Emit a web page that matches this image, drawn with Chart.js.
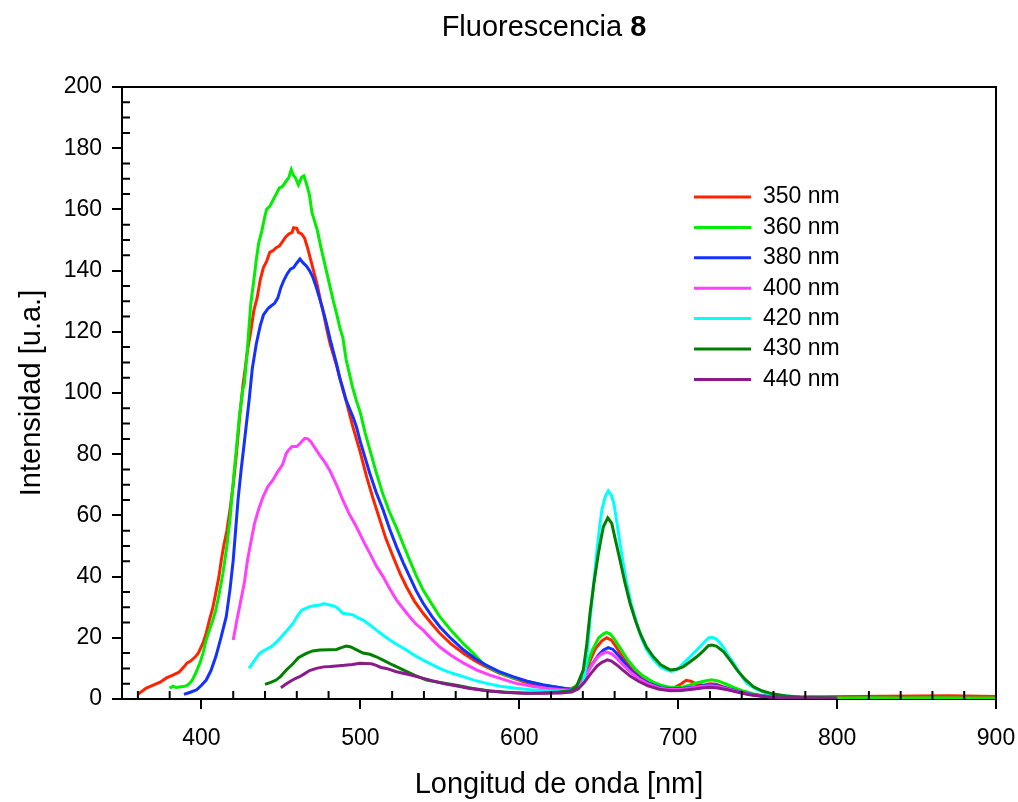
<!DOCTYPE html>
<html>
<head>
<meta charset="utf-8">
<script src="https://cdn.jsdelivr.net/npm/chart.js@4"></script>
<style>
html, body { margin: 0; padding: 0; background: #fff; }
</style>
</head>
<body>
<canvas id="fluorescencia" width="1018" height="802"></canvas>
<script>
// excitation wavelengths (legend)
const etiquetas = ['350 nm', '360 nm', '380 nm', '400 nm', '420 nm', '430 nm', '440 nm'];
const colores = ['rgb(255,36,0)', 'rgb(0,238,0)', 'rgb(20,50,255)', 'rgb(255,64,255)', 'rgb(0,255,255)', 'rgb(0,128,0)', 'rgb(139,26,139)'];

const xTicks = [400, 500, 600, 700, 800, 900];
const yTicks = [0, 20, 40, 60, 80, 100, 120, 140, 160, 180, 200];

// [nm, intensidad]
const s350 = [[360,1.5],[365,3.5],[370,4.6],[374,5.5],[378,6.9],[382,7.8],[386,8.8],[389,10.5],[391,11.8],[393,12.3],[396,13.7],[398,15],[401,18.3],[403,21.5],[405,25.8],[407,29.5],[409,34.6],[411,40],[412.5,45.4],[414,50],[416,55],[418,62],[420,70],[422,80],[424,92],[426,102],[428,110],[429,114],[431,120],[433,127],[435,131],[437,137],[439,141],[441,143],[443,146],[445,146.5],[447,147.5],[449,148],[451,149.5],[453,151],[455,152],[457,152.5],[458,154],[460,153.8],[461,152.5],[463,152],[465,150.5],[467,147],[469,143],[471,139],[473,135],[475,130],[477,125.5],[479,120.5],[481,116],[483,112.5],[485,109],[487,105],[489,101],[491,97.5],[493,93.5],[495,89.5],[497.5,85],[500,80.5],[504,72.5],[508,65.5],[512,59],[516,52.5],[520.6,46.5],[525,41],[529,36.7],[534,32],[539.5,28],[545,24.5],[550,21.5],[557,18],[565,14.9],[572,12.5],[579,10.6],[587,8.5],[596,6.8],[605,5.3],[615,4],[625,3.5],[632,3.2],[637,4.5],[641,8],[645,13],[648,16.5],[652,19],[655,20],[658,19.2],[661,17],[664,14.5],[668,11.5],[672,9],[677,6.8],[682,5.1],[688,4],[693,3.5],[698,3.8],[702,5],[705,6.1],[708,5.8],[712,4.8],[716,4.5],[720,5],[724,4.8],[728,4],[735,2.9],[741,2],[747,1.3],[755,1],[770,0.8],[790,0.7],[810,0.8],[830,0.9],[850,1],[870,1.1],[890,0.9],[900,0.8]];

const s360 = [[380,3.5],[382,4.2],[384,3.8],[387,4],[390,4.2],[392,4.8],[394,6],[396,8],[399,11.7],[401,15],[403,19.3],[405,22.5],[407,25.5],[409,29],[411,34],[413.5,41],[416,50],[418,59],[420,71],[422,82],[424,93],[426,101],[427,103],[429,115],[431,129],[433,137],[434.5,143.5],[436,149],[438,153],[440,158],[441,160],[443,161],[445,163],[447,165],[449,167],[451,167.5],[453,169],[455,170.5],[456.5,173],[458,171],[459,170.5],[461,168],[463,170.5],[464.5,171],[466,168.5],[468,164.7],[469.5,159],[471,156.5],[473,153],[475,148],[477,143.5],[479,139],[481,134.5],[483,130],[485,126],[487,121.5],[489,118],[491,111],[493,106.5],[495,102],[497.5,97.5],[500,93.5],[503,87],[506,81.4],[510,74],[514,67.2],[518,61.5],[522.7,56],[527,50.5],[531,45.4],[535,40.5],[539.5,35.6],[545,31],[550,26.9],[557,22.5],[565,18],[571,15],[577,11.7],[585,9.3],[594,7.3],[603,6],[611,5.1],[620,4.2],[628,3.5],[634,3.4],[638,5.5],[642,10],[646,16],[650,20],[653,21.3],[655,21.8],[657,21.3],[660,19.5],[664,16.3],[668,13],[673,9.8],[678,7.5],[684,5.6],[690,4.4],[696,3.7],[702,3.8],[707,4.5],[712,5.3],[717,5.9],[721,6.3],[725,5.9],[730,4.9],[735,3.8],[741,2.6],[747,1.7],[755,1],[765,0.6],[780,0.4],[800,0.3],[820,0.4],[840,0.3],[860,0.4],[880,0.3],[900,0.3]];

const s380 = [[389,1.5],[393,2.2],[397,3],[400,4.5],[403,6.2],[406,9.3],[409,13.8],[412,19.5],[415.6,26.9],[418,36],[420,45.4],[423,65],[425,75],[427,84],[430,97.7],[432,108],[434.5,116],[437,122],[439,125.5],[442,127.7],[444,128.5],[446,129.3],[448,131],[450,134.5],[452,137],[454,139],[456,140.5],[458,141],[460,142.5],[462,143.8],[464,142.5],[466,141.5],[468,140],[470,138],[472,135],[474,131.5],[476,128],[478.6,122.8],[481,117.5],[483,113.5],[485,109.5],[487,105],[489,101.5],[491,97.7],[493.5,94.5],[495.5,92],[497.5,89],[500,84],[505.9,73.8],[510,67.5],[514.3,61.8],[518.5,55.5],[522.7,49.8],[527,44.5],[531,40],[535,35.5],[539.5,31.3],[545,27],[550,23.6],[557,19.8],[565,16],[572,13.3],[579,11.1],[587,9],[596,7.3],[605,5.8],[615,4.6],[622,4],[628,3.5],[633,3.1],[638,4.5],[642,8],[646,11.5],[650,14.5],[653,16],[656,16.8],[659,16.2],[662,14.5],[666,12],[671,9],[676,6.8],[682,5],[689,3.7],[696,3.3],[703,3.4],[710,3.9],[716,4.4],[721,4.6],[726,4.2],[732,3.3],[738,2.5],[745,1.6],[752,1.1],[762,0.8],[775,0.6],[790,0.5],[800,0.5]];

const s400 = [[420,19.3],[422,25],[424,30.2],[427,38],[429,45.4],[431,51],[433.4,57.4],[436,62],[438.7,66],[441.8,69.4],[445,71.6],[448,74.3],[451,76.5],[453.4,80.3],[455,81.5],[457,82.5],[460,82.5],[462,83.5],[465,85.2],[467,85],[469,84],[471.5,82],[474.4,79.7],[477.5,77.5],[480.7,74.8],[485,70],[489,65],[493,60.5],[497.5,56.3],[502,51.5],[506,47.6],[510,43.5],[514.3,40],[518.5,36],[522.7,32.4],[527,29.5],[531,26.9],[535,24.5],[539.5,22.5],[545,19.5],[550,17],[557,14.3],[565,11.7],[573,9.5],[581.5,7.8],[590,6.4],[598,5.1],[608,4.2],[617,3.5],[625,3.1],[632,2.9],[637,4],[641,7],[645,10.5],[649,13.5],[652,14.8],[655,15.3],[658,14.8],[661,13.5],[665,11.3],[670,8.8],[675,6.7],[681,4.9],[688,3.6],[695,3.1],[702,3.2],[709,3.7],[715,4.1],[720,4.3],[725,4],[731,3.3],[737,2.5],[744,1.6],[752,1],[762,0.6],[775,0.5],[790,0.4],[800,0.4]];

const s420 = [[430,10],[433,12.3],[436.6,14.9],[440,16],[444,17.1],[448,19],[451.3,20.9],[454.5,22.8],[457.6,24.7],[460,26.8],[463,29],[466,29.7],[468,30.2],[471,30.5],[474.4,30.7],[477,31.2],[480.7,30.7],[484,30.3],[486,29.5],[489,28],[492,27.8],[495.4,27.5],[498,26.7],[501.7,25.8],[506,24.2],[510.1,22.5],[514,21],[518.5,19.3],[523,17.8],[529,16],[534,14.3],[539.5,12.7],[546,11],[552,9.5],[558,8.4],[564.7,7.3],[572,6.1],[579.4,5.1],[588,4.2],[598,3.5],[607,3],[617,2.7],[625,2.6],[632,2.8],[637,4],[640.3,5.1],[642.5,13],[644.5,25.8],[646.5,36],[648.7,47.6],[650.5,56],[652,61.8],[654,66],[656,68],[658,66.5],[659.5,64],[661.5,57.5],[663.4,50.9],[665.5,44],[667.6,37.8],[670.5,31],[673.9,24.7],[677,19.8],[680.2,16],[684.5,12.8],[688.6,10.6],[692,9.6],[696,9],[700,9.9],[703.3,11.7],[707.5,13.8],[711.7,16],[716,18.3],[719,20],[721.5,20.2],[724,19.6],[726.5,18.2],[729,16.5],[731.5,14.2],[734.9,11.7],[739,8.2],[743.3,5.1],[749,3.2],[755.9,1.9],[764,1.2],[772.6,0.8],[785,0.6],[800,0.5]];

const s430 = [[440,4.8],[444,5.5],[447,6.2],[450,7.5],[453.4,9.5],[457.6,11.5],[461,13.5],[466,14.9],[470,15.7],[474.4,16],[480.7,16.1],[485,16.2],[488,16.8],[491.2,17.3],[494,17],[497,16.2],[501.7,15],[506,14.6],[510,13.8],[514.3,12.7],[520,11.2],[526.9,9.5],[534,7.8],[541.6,6.2],[550,5.4],[560.5,4.5],[570,3.5],[581.5,2.6],[594,2.1],[606.7,1.9],[615,2],[625,2.3],[632,2.7],[636,4],[640.3,9.5],[642.5,18],[644.5,28],[647,38],[649.8,47.6],[651.5,52.5],[652.9,56.3],[655.7,59.2],[658.2,57.4],[660.5,52],[663.4,45.4],[666.5,38],[669.7,31.3],[673,25.8],[676,21.5],[680,17],[684.4,13.8],[689,11.2],[694.9,9.5],[699,9.7],[703.3,10.6],[707.5,12.2],[711.7,13.8],[716,15.8],[719,17.4],[721.2,17.6],[724,17.3],[728.5,15.5],[732.5,12.8],[737,9.5],[742,6.5],[747.4,4],[753,2.6],[760,1.6],[768,1],[776.8,0.6],[790,0.5],[800,0.4]];

const s440 = [[450,3.7],[453,4.8],[456,5.8],[459,6.7],[461.8,7.3],[465,8.3],[468,9.3],[472.3,10],[477,10.5],[481,10.6],[484.9,10.8],[490,11],[495,11.3],[499.6,11.7],[503,11.6],[507,11.5],[510,11],[513,10.3],[516.4,10],[522.7,8.9],[531.1,7.9],[538,7],[545,6],[553,5],[560,4.3],[568,3.5],[578,2.8],[590,2.2],[603,1.9],[617,1.9],[626,2],[633,2.3],[637,3.3],[641,5.5],[645,8.3],[649,10.8],[652,12],[655.5,12.8],[658,12.4],[661,11.3],[665,9.5],[670,7.4],[675,5.8],[681,4.3],[688,3.2],[695,2.7],[702,2.8],[709,3.2],[715,3.6],[720,3.8],[725,3.6],[731,3],[737,2.3],[744,1.5],[752,0.9],[762,0.5],[775,0.4],[790,0.3],[800,0.3]];

const series = [s350, s360, s380, s400, s420, s430, s440];

const fuente = 'Liberation Sans, Arial, sans-serif';

const datasets = series.map((s, i) => ({
    label: etiquetas[i],
    data: s.map(p => ({ x: p[0], y: p[1] })),
    borderColor: colores[i],
    backgroundColor: colores[i],
    borderWidth: 3,
    pointRadius: 0,
    tension: 0,
    order: series.length - i
}));

// title with bold "8", legend inside the plot, frame and inner minor ticks
const extras = {
    id: 'extras',
    afterDraw(chart) {
        const ctx = chart.ctx;
        const a = chart.chartArea;
        const xs = chart.scales.x, ys = chart.scales.y;
        ctx.save();

        // frame top/right
        ctx.strokeStyle = '#000';
        ctx.lineWidth = 2;
        ctx.beginPath();
        ctx.moveTo(a.left, a.top);
        ctx.lineTo(a.right, a.top);
        ctx.lineTo(a.right, a.bottom);
        ctx.stroke();

        // minor ticks, inward
        ctx.lineWidth = 2;
        ctx.beginPath();
        for (let v = 360; v < 900; v += 20) {
            if (v % 100 === 0) continue;
            const px = xs.getPixelForValue(v);
            ctx.moveTo(px, a.bottom);
            ctx.lineTo(px, a.bottom - 8);
        }
        for (let v = 5; v < 200; v += 5) {
            if (v % 20 === 0) continue;
            const py = ys.getPixelForValue(v);
            ctx.moveTo(a.left, py);
            ctx.lineTo(a.left + 8, py);
        }
        ctx.stroke();

        // title
        ctx.fillStyle = '#000';
        ctx.textBaseline = 'middle';
        ctx.textAlign = 'left';
        const t1 = 'Fluorescencia ', t2 = '8';
        ctx.font = '29px ' + fuente;
        const w1 = ctx.measureText(t1).width;
        ctx.font = 'bold 29px ' + fuente;
        const w2 = ctx.measureText(t2).width;
        const x0 = 544 - (w1 + w2) / 2;
        ctx.font = '29px ' + fuente;
        ctx.fillText(t1, x0, 28);
        ctx.font = 'bold 29px ' + fuente;
        ctx.fillText(t2, x0 + w1, 28);

        // legend
        ctx.font = '23px ' + fuente;
        chart.data.datasets.forEach((d, i) => {
            const y = 197 + i * 30.4;
            ctx.strokeStyle = d.borderColor;
            ctx.lineWidth = 3;
            ctx.beginPath();
            ctx.moveTo(694, y);
            ctx.lineTo(751, y);
            ctx.stroke();
            ctx.fillStyle = '#000';
            ctx.fillText(d.label, 763, y);
        });
        ctx.restore();
    }
};

const config = {
    type: 'line',
    data: { datasets: datasets },
    plugins: [extras],
    options: {
        responsive: false,
        animation: false,
        layout: { padding: { top: 87, right: 22, left: 0, bottom: 0 } },
        plugins: {
            legend: { display: false },
            tooltip: { enabled: false }
        },
        scales: {
            x: {
                type: 'linear',
                min: 350,
                max: 900,
                afterBuildTicks: s => { s.ticks = xTicks.map(v => ({ value: v })); },
                afterFit: s => { s.height = 103; s.paddingLeft = 0; s.paddingRight = 0; },
                ticks: {
                    color: '#000',
                    font: { family: fuente, size: 23 },
                    padding: 16,
                    maxRotation: 0,
                    autoSkip: false
                },
                grid: {
                    drawOnChartArea: false,
                    drawTicks: true,
                    tickLength: 10,
                    color: '#000',
                    lineWidth: 2
                },
                border: { display: true, color: '#000', width: 2 },
                title: {
                    display: true,
                    text: 'Longitud de onda [nm]',
                    color: '#000',
                    font: { family: fuente, size: 29 },
                    padding: { top: 0, bottom: 0 }
                }
            },
            y: {
                min: 0,
                max: 200,
                afterBuildTicks: s => { s.ticks = yTicks.map(v => ({ value: v })); },
                afterFit: s => { s.width = 122; },
                ticks: {
                    color: '#000',
                    font: { family: fuente, size: 23 },
                    padding: 10
                },
                grid: {
                    drawOnChartArea: false,
                    drawTicks: true,
                    tickLength: 10,
                    color: '#000',
                    lineWidth: 2
                },
                border: { display: true, color: '#000', width: 2 },
                title: {
                    display: true,
                    text: 'Intensidad [u.a.]',
                    color: '#000',
                    font: { family: fuente, size: 29 },
                    padding: { top: 15, bottom: 0 }
                }
            }
        }
    }
};

const graficoFluorescencia = new Chart(document.getElementById('fluorescencia'), config);
</script>
</body>
</html>
